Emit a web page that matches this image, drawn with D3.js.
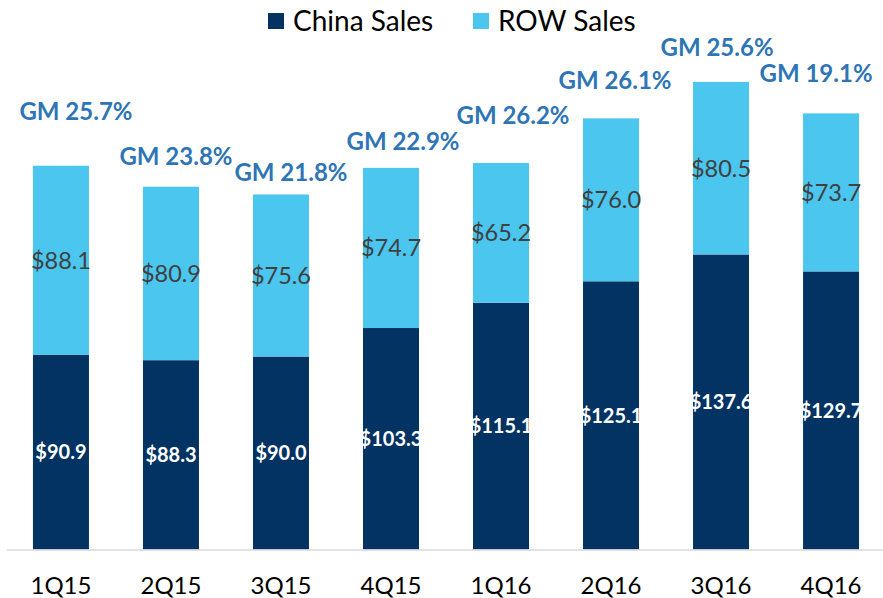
<!DOCTYPE html>
<html>
<head>
<meta charset="utf-8">
<script src="https://cdn.jsdelivr.net/npm/d3@7"></script>
<style>
  body { margin: 0; background: #fff; }
  text { font-family: Lato, "Open Sans", sans-serif; }
</style>
</head>
<body>
<script>
// data
const quarters = ["1Q15", "2Q15", "3Q15", "4Q15", "1Q16", "2Q16", "3Q16", "4Q16"];
const chinaSales = [90.9, 88.3, 90.0, 103.3, 115.1, 125.1, 137.6, 129.7];
const rowSales = [88.1, 80.9, 75.6, 74.7, 65.2, 76.0, 80.5, 73.7];
const gmLabels = ["GM 25.7%", "GM 23.8%", "GM 21.8%", "GM 22.9%", "GM 26.2%", "GM 26.1%", "GM 25.6%", "GM 19.1%"];
// hand placed annotation offsets (dx from bar centre, dy from bar top)
const gmOffsets = [[15, -54], [5, -30], [10, -22], [12, -27], [12, -48], [4, -38], [-4, -35], [-15, -40]];

const width = 883, height = 598;
const colors = { china: "#023362", row: "#4bc6ef", gm: "#2e75b6" };

let svg = d3.select("body").append("svg")
    .attr("width", width)
    .attr("height", height);

let x = d3.scaleBand()
    .domain(quarters)
    .range([6, 886])
    .paddingInner(0.491)
    .paddingOuter(0.245);

let y = d3.scaleLinear()
    .domain([0, 250])
    .range([549.5, 13.5]);

let rows = quarters.map((q, i) => ({ q: q, China: chinaSales[i], ROW: rowSales[i] }));
let stacked = d3.stack().keys(["China", "ROW"])(rows);

// bars
svg.append("g").selectAll("g")
  .data(stacked)
  .enter().append("g")
    .attr("fill", d => d.key == "China" ? colors.china : colors.row)
  .selectAll("rect")
  .data(d => d)
  .enter().append("rect")
    .attr("x", d => x(d.data.q))
    .attr("width", x.bandwidth())
    .attr("y", d => y(d[1]))
    .attr("height", d => y(d[0]) - y(d[1]));

// segment labels
svg.append("g").selectAll("text")
  .data(stacked[0])
  .enter().append("text")
    .attr("x", d => x(d.data.q) + x.bandwidth() / 2)
    .attr("y", d => (y(d[0]) + y(d[1])) / 2)
    .attr("dy", "0.36em")
    .attr("text-anchor", "middle")
    .attr("fill", "#fff")
    .attr("font-weight", "bold")
    .attr("font-size", 20)
    .text(d => "$" + d3.format(".1f")(d.data.China));

svg.append("g").selectAll("text")
  .data(stacked[1])
  .enter().append("text")
    .attr("x", d => x(d.data.q) + x.bandwidth() / 2)
    .attr("y", d => (y(d[0]) + y(d[1])) / 2)
    .attr("dy", "0.36em")
    .attr("text-anchor", "middle")
    .attr("fill", "#404040")
    .attr("font-size", 23.5)
    .text(d => "$" + d3.format(".1f")(d.data.ROW));

// GM annotations
svg.append("g").selectAll("text")
  .data(stacked[1])
  .enter().append("text")
    .attr("x", (d, i) => x(d.data.q) + x.bandwidth() / 2 + gmOffsets[i][0])
    .attr("y", (d, i) => y(d[1]) + gmOffsets[i][1])
    .attr("dy", "0.36em")
    .attr("text-anchor", "middle")
    .attr("fill", colors.gm)
    .attr("font-weight", "bold")
    .attr("font-size", 24)
    .text((d, i) => gmLabels[i]);

// x axis
let xAxis = svg.append("g")
    .attr("transform", "translate(0," + y(0) + ")")
    .call(d3.axisBottom(x).tickSize(0).tickPadding(27));
xAxis.select(".domain").remove();
xAxis.selectAll("text")
    .attr("font-family", "Lato, sans-serif")
    .attr("font-size", 24)
    .attr("fill", "#000");
svg.append("line")
    .attr("x1", 7).attr("x2", 883)
    .attr("y1", y(0) + 0.5).attr("y2", y(0) + 0.5)
    .attr("stroke", "#d9d9d9")
    .attr("stroke-width", 1.5);

// legend
let legend = svg.append("g").selectAll("g")
  .data([["China Sales", colors.china, 268], ["ROW Sales", colors.row, 473]])
  .enter().append("g")
    .attr("transform", d => "translate(" + d[2] + ",21)");
legend.append("rect")
    .attr("y", -8).attr("width", 16).attr("height", 16)
    .attr("fill", d => d[1]);
legend.append("text")
    .attr("x", 25)
    .attr("dy", "0.36em")
    .attr("font-size", 28)
    .attr("fill", "#000")
    .text(d => d[0]);
</script>
</body>
</html>
